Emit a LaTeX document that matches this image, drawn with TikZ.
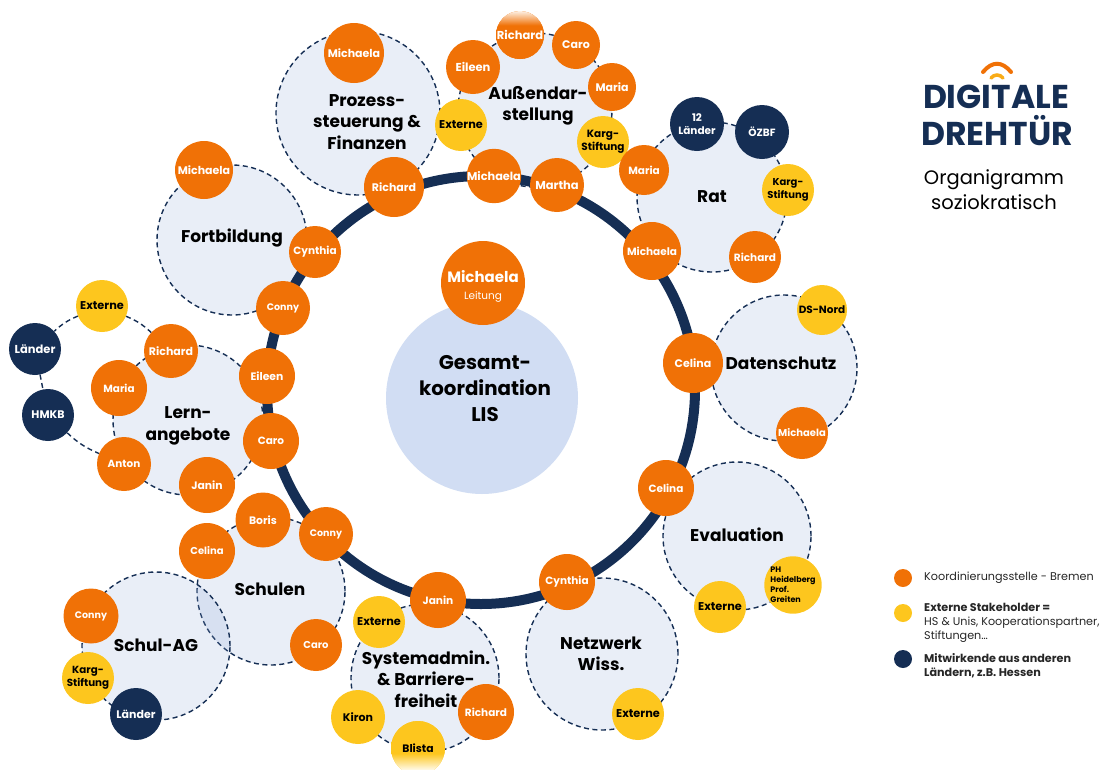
\documentclass[tikz,border=0pt]{standalone}
\usepackage{fontspec}
\setmainfont{Poppins}
\usetikzlibrary{positioning}
\definecolor{orgcol}{HTML}{F07106}
\definecolor{extcol}{HTML}{FDC61E}
\definecolor{navcol}{HTML}{152E54}
\definecolor{teamcol}{HTML}{8FA8D6}
\definecolor{maincol}{HTML}{D1DDF3}
\definecolor{orgfade}{HTML}{FDF0E4}
\definecolor{extfade}{HTML}{FFF9E6}
\pgfdeclareverticalshading{orgtop}{100bp}{color(0bp)=(orgcol);color(60bp)=(orgcol);color(75bp)=(orgfade);color(100bp)=(orgfade)}
\pgfdeclareverticalshading{extbot}{100bp}{color(0bp)=(extfade);color(30bp)=(extfade);color(45bp)=(extcol);color(100bp)=(extcol)}
\tikzset{
rad/.style={minimum size=#1*2pt},
memb/.style={circle,inner sep=0pt,align=center,font=\bfseries\fontsize{#1}{12.5}\selectfont},
orgc/.style={memb=#1,fill=orgcol,text=white},
extc/.style={memb=#1,fill=extcol,text=black},
navc/.style={memb=#1,fill=navcol,text=white},
teamc/.style={circle,inner sep=0pt,draw=navcol,line width=1.4pt,dash pattern=on 5pt off 3.5pt,fill=teamcol,fill opacity=0.195},
teamt/.style={align=center,inner sep=0pt,font=\bfseries\fontsize{17}{21.5}\selectfont},
legc/.style={circle,inner sep=0pt,minimum size=18pt},
legt/.style={align=left,anchor=west,inner sep=0pt,text=black!85,font=\fontsize{11.2}{14}\selectfont},
link/.style={draw=navcol,line width=1.4pt,dash pattern=on 5pt off 3.5pt}
}
\begin{document}
\begin{tikzpicture}[x=1pt,y=-1pt]
\useasboundingbox (0,0) rectangle (1107,769);

\node[teamc,rad=82](Tprozess) at (358,113){};
\node[teamc,rad=77](Taussen) at (535,110){};
\node[teamc,rad=75](Tfort) at (232,240){};
\node[teamc,rad=75](Trat) at (712,197){};
\node[teamc,rad=73](Tdaten) at (784,368){};
\node[teamc,rad=74](Teval) at (737,536){};
\node[teamc,rad=76](Tnetz) at (602,654){};
\node[teamc,rad=74](Tsys) at (425,678){};
\node[teamc,rad=74](Tschul) at (271,591){};
\node[teamc,rad=74](Tag) at (156,646){};
\node[teamc,rad=75](Tlern) at (188,420){};

\draw[navcol,line width=10pt] (481,390) circle (214pt);

\node[circle,inner sep=0pt,fill=maincol,rad=96](Main) at (482,398){};
\node[teamt,font=\bfseries\fontsize{19.8}{26}\selectfont](Maint) at (485,389){Gesamt-\\koordination\\LIS};
\node[orgc=14,rad=42](Lead) at (483,283){};
\node[text=white,inner sep=0pt,font=\bfseries\fontsize{15}{16}\selectfont](Leadn) at (483,277){Michaela};
\node[text=white,inner sep=0pt,font=\fontsize{10.5}{11}\selectfont](Leadl) at (483,297){Leitung};

\node[teamt](Lprozess) at (367,122){Prozess-\\steuerung \&\\Finanzen};
\node[teamt](Laussen) at (538,106){Außendar-\\stellung};
\node[teamt](Lfort) at (232,238){Fortbildung};
\node[teamt](Lrat) at (712,197){Rat};
\node[teamt](Ldaten) at (781,363){Datenschutz};
\node[teamt](Leval) at (737,535){Evaluation};
\node[teamt](Lnetz) at (601,654){Netzwerk\\Wiss.};
\node[teamt](Lsys) at (426,679){Systemadmin.\\\& Barriere-\\freiheit};
\node[teamt](Lschul) at (270,589){Schulen};
\node[teamt](Lag) at (156,645){Schul-AG};
\node[teamt](Llern) at (188,426){Lern-\\angebote};

\node[orgc=11,rad=30](Pmich) at (354,53){Michaela};
\node[orgc=11,rad=30](Prich) at (394,187){Richard};
\node[orgc=11,rad=29](Fmich) at (204,170){Michaela};
\node[orgc=10.5,rad=26](Fcyn) at (315,252){Cynthia};
\node[orgc=9.5,rad=27](Fcon) at (283,308){Conny};

\node[orgc=11.5,rad=24,shading=orgtop](Arich) at (520,35){Richard};
\node[orgc=11,rad=24](Acaro) at (576,45){Caro};
\node[orgc=11,rad=24](Amar) at (612,87){Maria};
\node[extc=10.5,rad=26](Akarg) at (603,142){Karg-\\Stiftung};
\node[orgc=11.5,rad=27](Amart) at (557,185){Martha};
\node[orgc=11.3,rad=27](Amich) at (494,176){Michaela};
\node[extc=11.3,rad=26](Aext) at (461,125){Externe};
\node[orgc=11.5,rad=27](Aeil) at (473,67){Eileen};

\node[orgc=10.5,rad=25](Rmar) at (644,170){Maria};
\node[navc=10.5,rad=27](Rlae) at (697,124){12\\Länder};
\node[navc=10.5,rad=27](Rozb) at (762,132){ÖZBF};
\node[extc=10,rad=26](Rkarg) at (788,190){Karg-\\Stiftung};
\node[orgc=10.5,rad=26](Rrich) at (755,257){Richard};
\node[orgc=10.5,rad=29](Rmich) at (652,251){Michaela};

\node[orgc=11,rad=30](Dcel) at (693,363){Celina};
\node[extc=10.5,rad=25](Dnord) at (822,310){DS-Nord};
\node[orgc=10,rad=26](Dmich) at (802,433){Michaela};

\node[orgc=10.5,rad=28](Ecel) at (666,488){Celina};
\node[extc=11.3,rad=26](Eext) at (720,607){Externe};
\node[extc=8,rad=26,align=left](Eph) at (793,585){PH\\[-2.5pt]Heidelberg\\[-2.5pt]Prof.\\[-2.5pt]Greiten};

\node[orgc=10.5,rad=28](Ncyn) at (567,582){Cynthia};
\node[extc=11.3,rad=26](Next) at (638,714){Externe};

\node[orgc=10.6,rad=28](Sjan) at (438,600){Janin};
\node[extc=11.3,rad=26](Sext) at (379,622){Externe};
\node[extc=11,rad=27](Skir) at (358,717){Kiron};
\node[extc=10.8,rad=27,shading=extbot](Sbli) at (418,748){Blista};
\node[orgc=10.5,rad=28](Srich) at (486,712){Richard};

\node[orgc=10.8,rad=27.5](Sbor) at (263,520){Boris};
\node[orgc=10,rad=28](Scel) at (207,551){Celina};
\node[orgc=9.5,rad=27](Scon) at (326,534){Conny};
\node[orgc=10,rad=26](Scar) at (316,645){Caro};

\node[orgc=9.5,rad=27.5](Gcon) at (91,616){Conny};
\node[extc=10.3,rad=26](Gkarg) at (88,678){Karg-\\Stiftung};
\node[navc=11,rad=26](Glae) at (136,714){Länder};

\node[extc=11.3,rad=26](Lext) at (102,306){Externe};
\node[navc=11.5,rad=26](Llae) at (35,349){Länder};
\node[navc=11,rad=26](Lhmk) at (48,415){HMKB};
\node[orgc=11,rad=27](Lrich) at (171,351){Richard};
\node[orgc=10.4,rad=28](Lmar) at (119,388){Maria};
\node[orgc=10.4,rad=27](Lant) at (124,464){Anton};
\node[orgc=10.8,rad=28](Ljan) at (207,485){Janin};
\node[orgc=10.8,rad=28](Leil) at (267,376){Eileen};
\node[orgc=10.5,rad=28](Lcar) at (271,441){Caro};

\path[link](Lext)edge [bend left=10] (Lrich);
\path[link](Lext)edge [bend right=10] (Llae);
\path[link](Llae)edge (Lhmk);
\path[link](Lhmk)edge [bend right=10] (Lant);

\draw[orgcol,line width=4pt,line cap=round] (983,72) .. controls (992,61) and (1002,61) .. (1011,72);
\draw[extcol!70!orgcol,line width=3.5pt,line cap=round] (991,78) .. controls (994,74) and (1000,74) .. (1003,78);
\node[inner sep=0pt,text=navcol,font=\bfseries\fontsize{33}{34}\selectfont](Logoa) at (996,97){DIGITALE};
\node[inner sep=0pt,text=navcol,font=\bfseries\fontsize{33}{34}\selectfont](Logob) at (997,131){DREHTÜR};
\node[inner sep=0pt,font=\fontsize{19.5}{25}\selectfont,align=center](Head) at (994,190){Organigramm\\soziokratisch};

\node[legc,fill=orgcol](Kora) at (903,578){};
\node[legc,fill=extcol](Kext) at (903,613){};
\node[legc,fill=navcol](Knav) at (903,659){};
\node[legt](Ttora) at (924,578){Koordinierungsstelle - Bremen};
\node[legt](Ttext) at (924,623){\textbf{Externe Stakeholder =}\\HS \& Unis, Kooperationspartner,\\Stiftungen…};
\node[legt](Ttnav) at (924,666){\textbf{Mitwirkende aus anderen}\\\textbf{Ländern, z.B. Hessen}};
\end{tikzpicture}
\end{document}
